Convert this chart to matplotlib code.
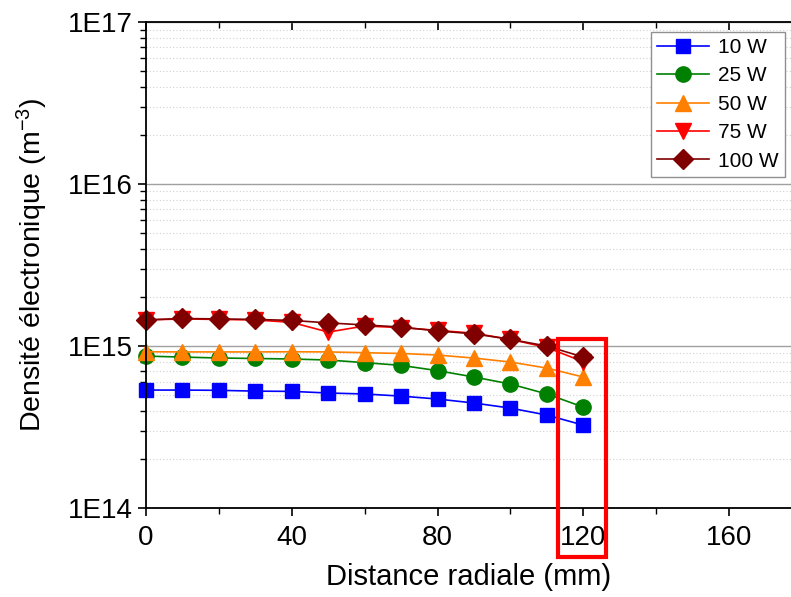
import matplotlib

matplotlib.use("Agg")
import matplotlib.pyplot as plt
from matplotlib.patches import Rectangle
from matplotlib.ticker import LogLocator, FixedLocator, NullFormatter

plt.rcParams["font.family"] = ["Liberation Sans", "DejaVu Sans"]
plt.rcParams["mathtext.fontset"] = "custom"
plt.rcParams["mathtext.rm"] = "Liberation Sans"
plt.rcParams["mathtext.it"] = "Liberation Sans"
plt.rcParams["axes.unicode_minus"] = False

RADIUS = [0, 10, 20, 30, 40, 50, 60, 70, 80, 90, 100, 110, 120]
NE_10W = [5.35e14, 5.35e14, 5.33e14, 5.27e14, 5.25e14, 5.13e14, 5.06e14,
          4.91e14, 4.71e14, 4.45e14, 4.14e14, 3.75e14, 3.25e14]
NE_25W = [8.67e14, 8.55e14, 8.44e14, 8.38e14, 8.32e14, 8.20e14, 7.90e14,
          7.60e14, 7.05e14, 6.44e14, 5.83e14, 5.06e14, 4.20e14]
NE_50W = [9.22e14, 9.20e14, 9.20e14, 9.20e14, 9.22e14, 9.20e14, 9.10e14,
          9.00e14, 8.80e14, 8.43e14, 7.97e14, 7.31e14, 6.44e14]
NE_75W = [1.45e15, 1.47e15, 1.46e15, 1.45e15, 1.40e15, 1.22e15, 1.33e15,
          1.30e15, 1.25e15, 1.20e15, 1.10e15, 0.98e15, 0.80e15]
NE_100W = [1.45e15, 1.48e15, 1.47e15, 1.46e15, 1.44e15, 1.39e15, 1.35e15,
           1.31e15, 1.24e15, 1.19e15, 1.10e15, 1.00e15, 0.855e15]

SERIES = [
    ("10 W", NE_10W, "#0000ff", "s", 10),
    ("25 W", NE_25W, "#008000", "o", 11),
    ("50 W", NE_50W, "#ff8000", "^", 12),
    ("75 W", NE_75W, "#ff0000", "v", 12),
    ("100 W", NE_100W, "#800000", "D", 10),
]

fig = plt.figure(figsize=(7.91, 5.97), dpi=100)
ax = fig.add_axes([0.1846, 0.149, 0.8154, 0.814])

for label, values, color, marker, size in SERIES:
    ax.plot(RADIUS, values, color=color, marker=marker, markersize=size,
            linewidth=1.2, label=label, clip_on=False)

ax.set_yscale("log")
ax.set_ylim(1e14, 1e17)
ax.set_xlim(0, 177)
ax.set_yticks([1e14, 1e15, 1e16, 1e17], ["1E14", "1E15", "1E16", "1E17"])
ax.yaxis.set_minor_locator(LogLocator(base=10, subs=range(2, 10)))
ax.yaxis.set_minor_formatter(NullFormatter())
ax.set_xticks([0, 40, 80, 120, 160])
ax.xaxis.set_minor_locator(FixedLocator([20, 60, 100, 140]))

ax.grid(axis="y", which="major", color="#a0a0a0", linewidth=1.0)
ax.grid(axis="y", which="minor", color="#d0d0d0", linewidth=0.8, linestyle=(0, (1, 2)))
ax.set_axisbelow(True)

ax.spines["right"].set_visible(False)
for side in ["left", "bottom", "top"]:
    ax.spines[side].set_linewidth(1.3)
ax.tick_params(axis="both", which="major", direction="out", length=6, width=1.2,
               labelsize=20, colors="black")
ax.tick_params(axis="both", which="minor", direction="out", length=4, width=1.0)
ax.tick_params(axis="x", which="both", top=True, pad=6)
for tick in ax.xaxis.get_major_ticks() + ax.xaxis.get_minor_ticks():
    tick.tick2line.set_marker(3)

ax.set_xlabel("Distance radiale (mm)", fontsize=21, labelpad=9)
ax.set_ylabel("Densité électronique (m$^{-3}$)", fontsize=20.5, labelpad=13)

legend = ax.legend(loc="upper right", bbox_to_anchor=(0.99, 0.98), fontsize=15,
                   frameon=True, fancybox=False, edgecolor="#909090", framealpha=1,
                   handlelength=2.5, handletextpad=0.4, labelspacing=0.45,
                   borderpad=0.3, borderaxespad=0.0)
legend.get_frame().set_linewidth(1.0)

fig.add_artist(Rectangle((558 / 791, 1 - 557 / 597), 48 / 791, 218 / 597,
                         transform=fig.transFigure, fill=False,
                         edgecolor="#ff0000", linewidth=3))

fig.savefig("out.png", dpi=100)
